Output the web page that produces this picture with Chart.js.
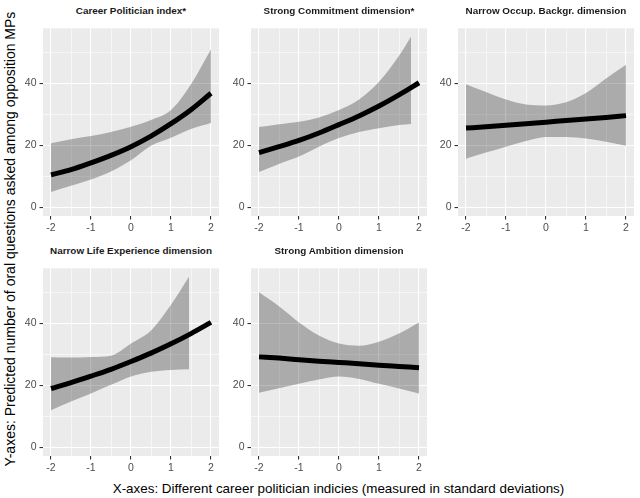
<!DOCTYPE html>
<html>
<head>
<meta charset="utf-8">
<script src="https://cdn.jsdelivr.net/npm/chart.js@4.4.1/dist/chart.umd.min.js"></script>
<style>
  body { margin: 0; background: #fff; width: 640px; height: 498px; position: relative; overflow: hidden; font-family: 'Liberation Sans', Arial, sans-serif; }
  canvas { position: absolute; }
  .strip { position: absolute; text-align: center; font-weight: bold; font-size: 9.9px; color: #1a1a1a; height: 12px; line-height: 12px; white-space: nowrap; }
  .xtitle { position: absolute; left: 43px; width: 591px; top: 481px; text-align: center; font-size: 13.4px; color: #000; line-height: 15px; white-space: nowrap; }
  .ytitle { position: absolute; left: 10px; top: 239px; transform: translate(-50%, -50%) rotate(-90deg); font-size: 14px; color: #000; line-height: 15px; white-space: nowrap; }
</style>
</head>
<body>
<div class="ytitle">Y-axes: Predicted number of oral questions asked among opposition MPs</div>
<div class="xtitle">X-axes: Different career politician indicies (measured in standard deviations)</div>
<script>
//valores
var xs = [-2, -1.5, -1, -0.5, 0, 0.5, 1, 1.5, 2];
var xTicks = [-2, -1.5, -1, -0.5, 0, 0.5, 1, 1.5, 2];
var xLabels = [-2, -1, 0, 1, 2];
var yTicks = [0, 10, 20, 30, 40, 50];
var yLabels = [0, 20, 40];

var titles = ["Career Politician index*", "Strong Commitment dimension*", "Narrow Occup. Backgr. dimension",
  "Narrow Life Experience dimension", "Strong Ambition dimension"];

//Career Politician index
var careerLine = [10.5, 12.2, 14.4, 16.8, 19.6, 23.0, 27.0, 31.5, 36.8];
var careerBandX = [-2, -1.5, -1, -0.5, 0, 0.5, 1, 1.5, 2];
var careerUpper = [20.7, 22.0, 23.0, 24.3, 26.0, 28.2, 31.4, 39.7, 51.0];
var careerLower = [5.0, 7.0, 9.0, 11.6, 15.2, 19.9, 22.5, 25.3, 27.2];

//Strong Commitment
var commitLine = [17.7, 19.6, 21.6, 24.0, 26.7, 29.5, 32.7, 36.3, 40.2];
var commitBandX = [-2, -1.5, -1, -0.5, 0, 0.5, 1, 1.5, 1.8];
var commitUpper = [25.9, 26.8, 27.6, 29.0, 31.4, 34.8, 40.5, 48.9, 55.0];
var commitLower = [11.4, 14.0, 16.4, 19.6, 22.4, 24.3, 25.5, 26.6, 26.9];

//Narrow Occup. Backgr.
var occupLine = [25.6, 26.0, 26.5, 27.0, 27.5, 28.0, 28.5, 29.0, 29.6];
var occupBandX = [-2, -1.5, -1, -0.5, 0, 0.5, 1, 1.5, 2];
var occupUpper = [39.7, 37.2, 34.8, 33.2, 32.9, 33.9, 36.9, 41.6, 46.0];
var occupLower = [15.7, 17.7, 19.6, 21.4, 22.7, 22.7, 22.2, 21.2, 19.9];

//Narrow Life Experience
var lifeLine = [19.0, 20.9, 23.0, 25.2, 27.7, 30.4, 33.4, 36.7, 40.3];
var lifeBandX = [-2, -1.5, -1, -0.5, 0, 0.5, 1, 1.45];
var lifeUpper = [29.1, 29.0, 29.2, 29.6, 33.5, 37.7, 46.0, 55.0];
var lifeLower = [12.0, 14.8, 17.4, 20.2, 22.9, 24.4, 25.0, 25.2];

//Strong Ambition
var ambLine = [29.2, 28.8, 28.3, 27.8, 27.4, 27.0, 26.5, 26.1, 25.7];
var ambBandX = [-2, -1.5, -1, -0.5, 0, 0.5, 1, 1.5, 2];
var ambUpper = [50.0, 45.5, 40.3, 36.1, 33.5, 32.8, 34.1, 36.7, 40.3];
var ambLower = [17.6, 19.1, 20.5, 21.9, 22.9, 22.1, 20.5, 19.0, 17.4];

var panels = [
  { line: careerLine, bx: careerBandX, up: careerUpper, lo: careerLower, left: 43, top: 23 },
  { line: commitLine, bx: commitBandX, up: commitUpper, lo: commitLower, left: 251, top: 23 },
  { line: occupLine, bx: occupBandX, up: occupUpper, lo: occupLower, left: 458, top: 23 },
  { line: lifeLine, bx: lifeBandX, up: lifeUpper, lo: lifeLower, left: 43, top: 263 },
  { line: ambLine, bx: ambBandX, up: ambUpper, lo: ambLower, left: 251, top: 263 }
];
var panelW = 176, panelH = 193;

function pts(x, y) {
  return x.map(function (v, i) { return { x: v, y: y[i] }; });
}

var panelBg = {
  id: 'panelBg',
  beforeDraw: function (chart) {
    var a = chart.chartArea, ctx = chart.ctx;
    ctx.save();
    ctx.fillStyle = '#EBEBEB';
    ctx.fillRect(a.left, a.top, a.right - a.left, a.bottom - a.top);
    ctx.restore();
  }
};

Chart.defaults.font.family = "'Liberation Sans', Arial, sans-serif";

panels.forEach(function (p, i) {
  var cv = document.createElement('canvas');
  var w = panelW + 44, h = panelH + 4 + 22;
  cv.width = w; cv.height = h;
  cv.style.left = (p.left - 40) + 'px';
  cv.style.top = (p.top - 4) + 'px';
  cv.style.width = w + 'px';
  cv.style.height = h + 'px';
  document.body.appendChild(cv);

  var strip = document.createElement('div');
  strip.className = 'strip';
  strip.style.left = p.left + 'px';
  strip.style.width = panelW + 'px';
  strip.style.top = (p.top - 18) + 'px';
  strip.textContent = titles[i];
  document.body.appendChild(strip);

  new Chart(cv, {
    type: 'line',
    data: {
      datasets: [{
        data: pts(xs, p.line),
        borderColor: '#000',
        borderWidth: 5,
        pointRadius: 0,
        cubicInterpolationMode: 'monotone',
        fill: false
      }, {
        data: pts(p.bx, p.up),
        borderWidth: 0,
        borderColor: 'rgba(0,0,0,0)',
        backgroundColor: 'rgba(0,0,0,0.27)',
        pointRadius: 0,
        cubicInterpolationMode: 'monotone',
        fill: '+1'
      }, {
        data: pts(p.bx, p.lo),
        borderWidth: 0,
        borderColor: 'rgba(0,0,0,0)',
        pointRadius: 0,
        cubicInterpolationMode: 'monotone',
        fill: false
      }]
    },
    options: {
      responsive: false,
      animation: false,
      events: [],
      layout: { padding: { left: 0, top: 4, right: 4, bottom: 0 } },
      plugins: { legend: { display: false }, tooltip: { enabled: false }, title: { display: false } },
      scales: {
        x: {
          type: 'linear', min: -2.2, max: 2.2,
          afterBuildTicks: function (ax) { ax.ticks = xTicks.map(function (v) { return { value: v }; }); },
          afterFit: function (ax) { ax.height = 22; },
          border: { display: false },
          grid: {
            color: '#fff',
            lineWidth: function (c) { return xLabels.indexOf(c.tick.value) >= 0 ? 1.1 : 0.55; },
            tickColor: function (c) { return xLabels.indexOf(c.tick.value) >= 0 ? '#333' : 'rgba(0,0,0,0)'; },
            tickWidth: 1.1,
            tickLength: 3.5
          },
          ticks: {
            autoSkip: false, maxRotation: 0, padding: 2,
            color: '#4D4D4D', font: { size: 10.5 },
            callback: function (v) { return xLabels.indexOf(v) >= 0 ? String(v) : ''; }
          }
        },
        y: {
          min: -2.75, max: 57.75,
          afterBuildTicks: function (ax) { ax.ticks = yTicks.map(function (v) { return { value: v }; }); },
          afterFit: function (ax) { ax.width = 40; },
          border: { display: false },
          grid: {
            color: '#fff',
            lineWidth: function (c) { return yLabels.indexOf(c.tick.value) >= 0 ? 1.1 : 0.55; },
            tickColor: function (c) { return yLabels.indexOf(c.tick.value) >= 0 ? '#333' : 'rgba(0,0,0,0)'; },
            tickWidth: 1.1,
            tickLength: 3.5
          },
          ticks: {
            autoSkip: false, padding: 3,
            color: '#4D4D4D', font: { size: 10.5 },
            callback: function (v) { return yLabels.indexOf(v) >= 0 ? String(v) : ''; }
          }
        }
      }
    },
    plugins: [panelBg]
  });
});
</script>
</body>
</html>
